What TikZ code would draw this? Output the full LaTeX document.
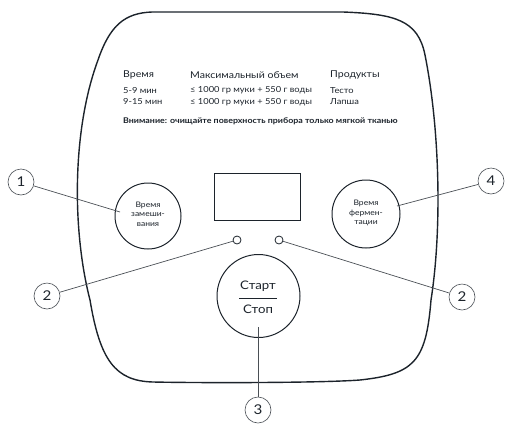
\documentclass[tikz,border=0pt]{standalone}
\usepackage{fontspec}
\setmainfont{Lato}[FakeStretch=1.12]
\definecolor{ink}{HTML}{1C232B}
\definecolor{lead}{HTML}{4A4F55}
\tikzset{
  outline/.style={draw=ink, line width=1.4pt},
  btn/.style={circle, draw=ink, line width=1pt, inner sep=0pt, align=center},
  callout/.style={circle, draw=lead, line width=0.6pt, minimum size=26pt, inner sep=0pt, font=\fontsize{13.5}{13.5}\selectfont, text=ink},
  leader/.style={draw=lead, line width=0.7pt},
  hdr/.style={anchor=west, inner sep=0pt, font=\fontsize{9.4}{10}\selectfont, text=ink},
  row/.style={anchor=west, inner sep=0pt, font=\fontsize{8.3}{9}\selectfont, text=ink},
  btntext/.style={font=\fontsize{7.6}{9.6}\selectfont, text=ink}
}
\begin{document}
\begin{tikzpicture}[x=1pt,y=-1pt]
\useasboundingbox (0,0) rectangle (505,426);
% panel outline
\draw[outline] (152,12) -- (343,12)
  .. controls (395,14) and (418,20) .. (425,55)
  .. controls (440,130) and (442,230) .. (431,300)
  .. controls (426,362) and (414,374) .. (360,380)
  .. controls (320,383) and (200,383) .. (153,382)
  .. controls (115,381) and (100,360) .. (90,300)
  .. controls (72,230) and (72,130) .. (98,60)
  .. controls (110,25) and (125,13) .. (152,12) -- cycle;
% table
\node[hdr] (h1) at (123,75) {Время};
\node[hdr] (h2) at (190,75) {Максимальный объем};
\node[hdr] (h3) at (330,75) {Продукты};
\node[row] (r11) at (123,90.5) {5-9 мин};
\node[row] (r12) at (190,90.5) {≤ 1000 гр муки + 550 г воды};
\node[row] (r13) at (330,90.5) {Тесто};
\node[row] (r21) at (123,102) {9-15 мин};
\node[row] (r22) at (190,102) {≤ 1000 гр муки + 550 г воды};
\node[row] (r23) at (330,102) {Лапша};
\node[row, font=\fontsize{7.9}{9}\selectfont\bfseries] (warn) at (123,121) {Внимание: очищайте поверхность прибора только мягкой тканью};
% display
\node[draw=ink, line width=1pt, minimum width=86pt, minimum height=47pt, inner sep=0pt] (disp) at (257,196.5) {};
% buttons
\node[btn, minimum size=66pt] (bmix) at (148,216) {};
\node[btntext, align=center] (tmix) at (148,214) {Время\\замеши-\\вания};
\node[btn, minimum size=68pt] (bferm) at (366,214) {};
\node[btntext, align=center] (tferm) at (366,213) {Время\\фермен-\\тации};
\node[btn, minimum size=83pt] (bstart) at (258.5,296) {};
\node[font=\fontsize{11.8}{12}\selectfont, text=ink, inner sep=1pt] (tstart) at (258,286) {Старт};
\node[font=\fontsize{11.8}{12}\selectfont, text=ink, inner sep=1pt] (tstop) at (258,309) {Стоп};
\draw[ink, line width=0.8pt] (239,298) -- (277,298);
% LEDs
\node[circle, draw=ink, line width=0.8pt, minimum size=8pt, inner sep=0pt] (led1) at (237,240) {};
\node[circle, draw=ink, line width=0.8pt, minimum size=8pt, inner sep=0pt] (led2) at (279,240) {};
% callouts
\node[callout] (c1) at (21,182) {1};
\node[callout] (c2a) at (47,296) {2};
\node[callout] (c2b) at (462,297) {2};
\node[callout] (c3) at (258,410) {3};
\node[callout] (c4) at (491,181) {4};
\coordinate (e1) at (120,212);
\coordinate (e4) at (397,206);
\coordinate (e3) at (258,327);
\draw[leader] (c1) -- (e1);
\draw[leader] (c4) -- (e4);
\draw[leader] (c2a) -- (led1);
\draw[leader] (c2b) -- (led2);
\draw[leader] (c3) -- (e3);
\end{tikzpicture}
\end{document}
